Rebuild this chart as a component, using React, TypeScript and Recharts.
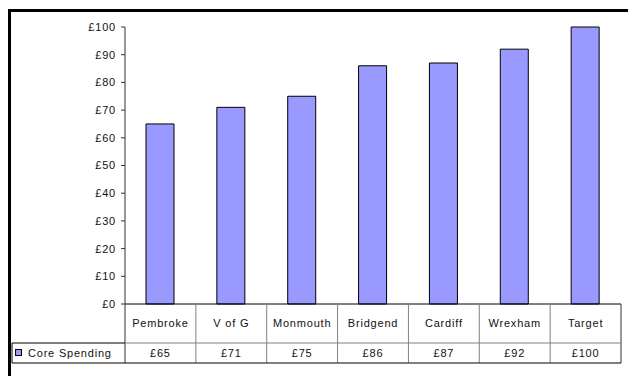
import { BarChart, Bar, XAxis, YAxis } from "recharts";

// Core spending per area
const categories = ["Pembroke", "V of G", "Monmouth", "Bridgend", "Cardiff", "Wrexham", "Target"];
const coreSpending = [65, 71, 75, 86, 87, 92, 100];
const yTicks = [0, 10, 20, 30, 40, 50, 60, 70, 80, 90, 100];
const seriesName = "Core Spending";

const data = categories.map((name, i) => ({ name, value: coreSpending[i] }));

const W = 628;
const H = 376;
const Y_AXIS_W = 125;
const RIGHT = 7;
const TOP = 27;
const X_AXIS_H = 72;
const BAND = (W - Y_AXIS_W - RIGHT) / categories.length;

const TABLE_TOP = H - X_AXIS_H;
const ROW_MID = 343;
const TABLE_BOTTOM = 363;
const LEGEND_LEFT = 12;

const font = "'Liberation Sans', Arial, sans-serif";
const BAR_FILL = "#9999ff";
const GRID = "#808080";

const textStyle = { fontFamily: font, fontSize: 11, letterSpacing: 0.8, fill: "#111" };

function TableTick(props: any) {
  const { x, index, payload } = props;
  const hw = BAND / 2;
  const l = x - hw;
  const r = x + hw;
  const last = index === categories.length - 1;
  return (
    <g>
      {index === 0 && (
        <g>
          <line x1={l} y1={TABLE_TOP} x2={l} y2={TABLE_BOTTOM} stroke="#333" />
          <line x1={LEGEND_LEFT} y1={ROW_MID} x2={l} y2={ROW_MID} stroke="#000" />
          <line x1={LEGEND_LEFT} y1={TABLE_BOTTOM} x2={l} y2={TABLE_BOTTOM} stroke="#000" />
          <line x1={LEGEND_LEFT} y1={ROW_MID} x2={LEGEND_LEFT} y2={TABLE_BOTTOM} stroke="#000" />
          <rect x={15.5} y={349.5} width={6} height={6} fill={BAR_FILL} stroke="#000" />
          <text x={28} y={357} style={textStyle}>
            {seriesName}
          </text>
        </g>
      )}
      <line x1={r} y1={TABLE_TOP} x2={r} y2={TABLE_BOTTOM} stroke={last ? "#333" : GRID} />
      <line x1={l} y1={ROW_MID} x2={r} y2={ROW_MID} stroke={GRID} />
      <line x1={l} y1={TABLE_BOTTOM} x2={r} y2={TABLE_BOTTOM} stroke="#000" />
      <text x={x} y={327} textAnchor="middle" style={textStyle}>
        {payload.value}
      </text>
      <text x={x} y={357} textAnchor="middle" style={textStyle}>
        £{data[index].value}
      </text>
    </g>
  );
}

export default function App() {
  return (
    <div
      style={{
        position: "absolute",
        left: 0,
        top: 0,
        width: W,
        height: H,
        overflow: "hidden",
        background: "#fff",
      }}
    >
      <div
        style={{
          position: "absolute",
          left: 8,
          top: 9,
          width: 700,
          height: 500,
          borderLeft: "3px solid #000",
          borderTop: "3px solid #000",
        }}
      />
      <div style={{ position: "absolute", left: 0, top: 0 }}>
        <BarChart
          width={W}
          height={H}
          data={data}
          margin={{ top: TOP, right: RIGHT, left: 0, bottom: 0 }}
        >
          <XAxis
            dataKey="name"
            height={X_AXIS_H}
            interval={0}
            tickSize={0}
            tickMargin={0}
            tickLine={false}
            axisLine={{ stroke: "#000" }}
            tick={<TableTick />}
          />
          <XAxis
            xAxisId="top"
            dataKey="name"
            orientation="top"
            height={0}
            tick={false}
            tickLine={false}
            axisLine={{ stroke: "#a0a0a0" }}
          />
          <YAxis
            width={Y_AXIS_W}
            domain={[0, 100]}
            ticks={yTicks}
            interval={0}
            tickFormatter={(v) => `£${v}`}
            tickSize={4}
            tickMargin={5}
            axisLine={{ stroke: "#333" }}
            tickLine={{ stroke: "#333" }}
            tick={textStyle}
          />
          <YAxis
            yAxisId="right"
            orientation="right"
            width={0}
            domain={[0, 100]}
            tick={false}
            tickLine={false}
            axisLine={{ stroke: "#a0a0a0" }}
          />
          <Bar
            dataKey="value"
            name={seriesName}
            fill={BAR_FILL}
            stroke="#000"
            strokeWidth={1}
            barSize={28}
            isAnimationActive={false}
          />
        </BarChart>
      </div>
    </div>
  );
}
